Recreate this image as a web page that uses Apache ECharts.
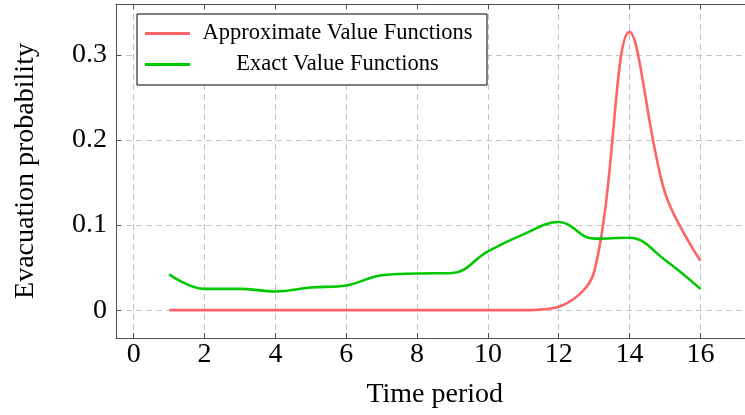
<!DOCTYPE html>
<html><head><meta charset="utf-8">
<script src="https://cdn.jsdelivr.net/npm/echarts@6/dist/echarts.min.js"></script>
<style>html,body{margin:0;padding:0;background:#fff}#c{width:745px;height:415px}</style>
</head><body><div id="c"></div>
<script>
const timePeriods = [1,2,3,4,5,6,7,8,9,10,11,12,13,14,15,16];
const approxValues = [0,0,0,0,0,0,0,0,0,0,0,0.004,0.045,0.327,0.138,0.058];
const exactValues = [0.042,0.025,0.025,0.022,0.0266,0.029,0.041,0.043,0.0437,0.069,0.089,0.1035,0.084,0.085,0.059,0.025];
const xTicks = [0,2,4,6,8,10,12,14,16];
const yTicks = [0,0.1,0.2,0.3];
const seriesNames = ['Approximate Value Functions','Exact Value Functions'];
const seriesColors = ['#ff6464','#00c800'];

const FONT = 'Liberation Serif';
const chart = echarts.init(document.getElementById('c'), null, {renderer:'canvas'});
const pairs = vals => timePeriods.map((t,i)=>[t, vals[i]]);
const axisCol = '#505050';
const gridLine = {show:true, lineStyle:{color:'#c4c4c4', type:[6,4], width:1}};

chart.setOption({
  animation:false,
  backgroundColor:'#fff',
  grid:{left:116, top:4, right:-8.5, bottom:77, containLabel:false, outerBoundsMode:'none'},
  legend:{
    orient:'vertical', left:137, top:14,
    padding:[8,7,9,8], itemGap:8, itemWidth:45, itemHeight:3, icon:'rect',
    backgroundColor:'#fff', borderColor:'#000', borderWidth:1,
    data:seriesNames,
    formatter: n => '{t|' + n + '}',
    textStyle:{fontFamily:FONT, fontSize:22.5, color:'#000', lineHeight:20,
      rich:{t:{width:285, align:'center', fontFamily:FONT, fontSize:22.5, lineHeight:20, color:'#000'}}}
  },
  xAxis:[{
    type:'value', min:-0.5, max:17.5,
    name:'Time period', nameLocation:'middle', nameGap:43,
    nameTextStyle:{fontFamily:FONT, fontSize:28, color:'#000'},
    axisLine:{show:true, onZero:false, lineStyle:{color:axisCol, width:1}},
    axisTick:{show:true, inside:true, length:5, customValues:xTicks, lineStyle:{color:axisCol}},
    axisLabel:{customValues:xTicks, fontFamily:FONT, fontSize:28, color:'#000', margin:3},
    splitLine:gridLine
  },{
    type:'value', min:-0.5, max:17.5, position:'top',
    axisLine:{show:true, onZero:false, lineStyle:{color:axisCol, width:1}},
    axisTick:{show:true, inside:true, length:5, customValues:xTicks, lineStyle:{color:axisCol}},
    axisLabel:{show:false},
    splitLine:{show:false}
  }],
  yAxis:{
    type:'value', min:-0.0327, max:0.3597,
    name:'Evacuation probability', nameLocation:'middle', nameGap:76,
    nameTextStyle:{fontFamily:FONT, fontSize:28, color:'#000'},
    axisLine:{show:true, onZero:false, lineStyle:{color:axisCol, width:1}},
    axisTick:{show:true, inside:true, length:5, customValues:yTicks, lineStyle:{color:axisCol}},
    axisLabel:{customValues:yTicks, fontFamily:FONT, fontSize:28, color:'#000', margin:9,
      formatter: v => Math.abs(v) < 1e-9 ? '0' : v.toFixed(1)},
    splitLine:gridLine
  },
  series:[
    {name:seriesNames[0], type:'line', data:pairs(approxValues), smooth:0.35, symbol:'none',
     color:seriesColors[0], lineStyle:{width:2.6, color:seriesColors[0]}},
    {name:seriesNames[1], type:'line', data:pairs(exactValues), smooth:0.4, symbol:'none',
     color:seriesColors[1], lineStyle:{width:2.6, color:seriesColors[1]}}
  ]
});
</script></body></html>
